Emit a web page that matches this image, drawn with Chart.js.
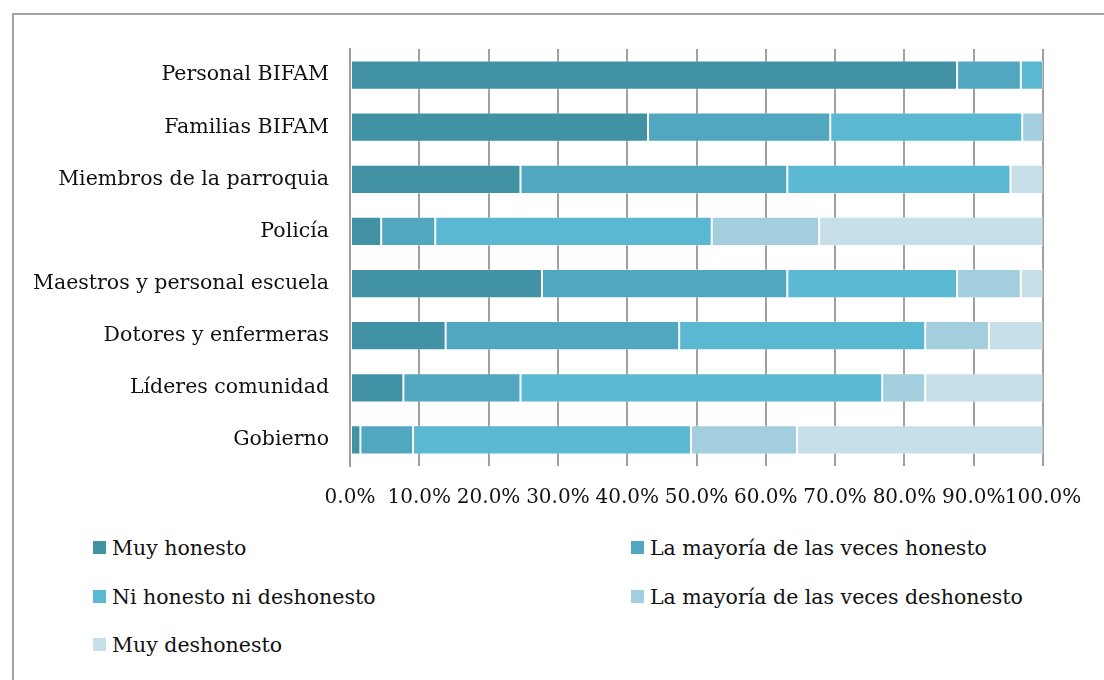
<!DOCTYPE html>
<html>
<head>
<meta charset="utf-8">
<script src="https://cdn.jsdelivr.net/npm/chart.js@4/dist/chart.umd.min.js"></script>
<style>
  html, body { margin: 0; padding: 0; background: #fff; }
  #wrap { position: relative; width: 1104px; height: 680px; overflow: hidden; }
  #frame { position: absolute; left: 12px; top: 13px; width: 1200px; height: 800px; border: 2px solid #a3a3a3; box-sizing: border-box; }
  #chartBox { position: absolute; left: 0; top: 0; width: 1104px; height: 520px; }
  .leg { position: absolute; font-family: "DejaVu Serif", serif; font-size: 20.5px; color: #111; white-space: nowrap; line-height: 24px; }
  .leg span.sw { position: absolute; width: 13px; height: 13px; left: 0; top: 5px; }
  .leg span.tx { position: absolute; left: 19px; top: 0; }
</style>
</head>
<body>
<div id="wrap">
  <div id="frame"></div>
  <div id="chartBox"><canvas id="c" width="1104" height="520"></canvas></div>
  <div id="legend"></div>
</div>
<script>
const categories = ["Personal BIFAM", "Familias BIFAM", "Miembros de la parroquia", "Policía", "Maestros y personal escuela", "Dotores y enfermeras", "Líderes comunidad", "Gobierno"];
const seriesNames = ["Muy honesto", "La mayoría de las veces honesto", "Ni honesto ni deshonesto", "La mayoría de las veces deshonesto", "Muy deshonesto"];
const muyHonesto        = [87.6, 43.0, 24.6,  4.5, 27.7, 13.8,  7.7,  1.5];
const mayoriaHonesto    = [ 9.2, 26.3, 38.5,  7.8, 35.4, 33.7, 16.9,  7.6];
const niHonestoNiDesh   = [ 3.2, 27.7, 32.2, 39.9, 24.5, 35.5, 52.2, 40.1];
const mayoriaDeshonesto = [ 0.0,  3.0,  0.0, 15.5,  9.2,  9.2,  6.2, 15.3];
const muyDeshonesto     = [ 0.0,  0.0,  4.7, 32.3,  3.2,  7.8, 17.0, 35.5];
const tickLabels = ["0.0%", "10.0%", "20.0%", "30.0%", "40.0%", "50.0%", "60.0%", "70.0%", "80.0%", "90.0%", "100.0%"];
const colors = ["#4292a6", "#50a7bf", "#5bb8d3", "#a2cedd", "#c7dfe8"];

const seriesValues = [muyHonesto, mayoriaHonesto, niHonestoNiDesh, mayoriaDeshonesto, muyDeshonesto];
const FONT = "'DejaVu Serif', serif";

const datasets = seriesNames.map((name, i) => ({
  label: name,
  data: seriesValues[i],
  backgroundColor: colors[i],
  borderColor: 'rgba(255,255,255,0.35)',
  borderWidth: 1,
  borderSkipped: false,
  barPercentage: 0.56,
  categoryPercentage: 1.0
}));

new Chart(document.getElementById('c'), {
  type: 'bar',
  data: { labels: categories, datasets },
  options: {
    indexAxis: 'y',
    responsive: false,
    animation: false,
    layout: { padding: { left: 0, right: 61, top: 49, bottom: 0 } },
    plugins: { legend: { display: false }, tooltip: { enabled: false } },
    scales: {
      x: {
        stacked: true,
        min: 0, max: 100,
        afterBuildTicks: (s) => { s.ticks = tickLabels.map((t, i) => ({ value: i * 10 })); },
        ticks: {
          callback: (v, i) => tickLabels[i],
          color: '#111',
          font: { family: FONT, size: 20 },
          padding: 20,
          maxRotation: 0,
          autoSkip: false
        },
        grid: { color: '#a0a0a0', lineWidth: 2, drawTicks: false },
        border: { display: false },
        afterFit: (s) => { s.height = 54; }
      },
      y: {
        stacked: true,
        ticks: {
          color: '#111',
          font: { family: FONT, size: 20.5 },
          padding: 21
        },
        grid: { display: false, drawTicks: false },
        border: { display: true, color: '#a0a0a0', width: 2 },
        afterFit: (s) => { s.width = 350; }
      }
    }
  }
});

// HTML legend in two columns, built from the series arrays
const legendPos = [[93, 536], [631, 536], [93, 585], [631, 585], [93, 633]];
const lg = document.getElementById('legend');
seriesNames.forEach((name, i) => {
  const d = document.createElement('div');
  d.className = 'leg';
  d.style.left = legendPos[i][0] + 'px';
  d.style.top = legendPos[i][1] + 'px';
  const sw = document.createElement('span');
  sw.className = 'sw';
  sw.style.background = colors[i];
  const tx = document.createElement('span');
  tx.className = 'tx';
  tx.textContent = name;
  d.appendChild(sw); d.appendChild(tx);
  lg.appendChild(d);
});
</script>
</body>
</html>
